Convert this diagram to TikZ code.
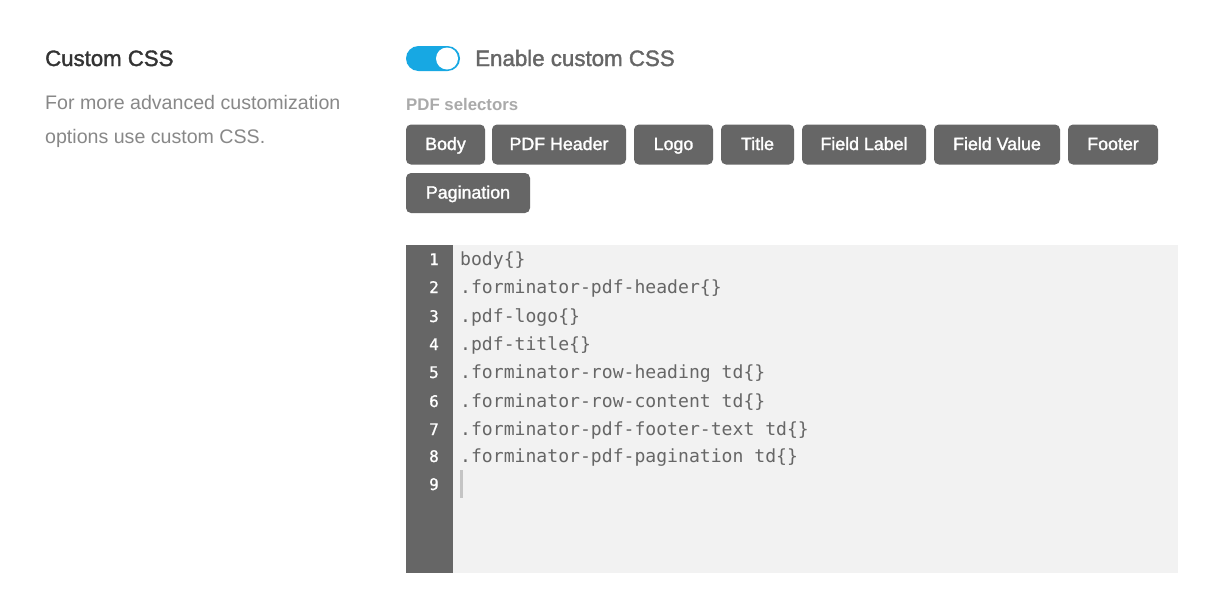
\documentclass[tikz,border=0pt]{standalone}
\usepackage{fontspec}
\setmainfont{Liberation Sans}
\setmonofont{DejaVu Sans Mono}
\newfontfamily\medfont[FakeBold=1.6]{Liberation Sans}
\newfontfamily\numfont[FakeBold=1]{DejaVu Sans Mono}
\usepackage{tikz}
\definecolor{btngray}{HTML}{666666}
\definecolor{codebg}{HTML}{F2F2F2}
\definecolor{toggleblue}{HTML}{17A8E3}
\definecolor{headdark}{HTML}{333333}
\definecolor{helpgray}{HTML}{888888}
\definecolor{labelgray}{HTML}{AAAAAA}
\definecolor{cursorgray}{HTML}{C4C4C4}
\tikzset{
  selbtn/.style={fill=btngray, rounded corners=5pt, text=white, font=\fontsize{17.8}{20}\medfont, inner sep=0pt, anchor=center, text height=15pt, text depth=4pt, minimum height=40pt},
  codeline/.style={anchor=base west, inner sep=0pt, text=btngray, font=\fontsize{18.1}{20}\ttfamily},
  lineno/.style={anchor=base east, inner sep=0pt, text=white, font=\fontsize{16}{20}\numfont},
  helptext/.style={anchor=base west, inner sep=0pt, text=helpgray, font=\fontsize{19.6}{24}\selectfont},
}
\begin{document}
\begin{tikzpicture}[x=1pt, y=-1pt]
    \useasboundingbox (0, 0) rectangle (1220, 611);
    \fill[white] (0, 0) rectangle (1220, 611);
    \node[anchor=base west, inner sep=0pt, text=headdark, font=\fontsize{22.2}{26}\medfont] (title) at (45, 66) {Custom CSS};
    \node[helptext] (help1) at (45, 109) {For more advanced customization};
    \node[helptext] (help2) at (45, 143) {options use custom CSS.};
    \fill[toggleblue, rounded corners=12.5pt] (406, 46) rectangle (460, 71);
    \fill[white] (447, 58.5) circle (11);
    \node[anchor=base west, inner sep=0pt, text=btngray, font=\fontsize{22.3}{28}\medfont] (enable) at (475, 66) {Enable custom CSS};
    \node[anchor=base west, inner sep=0pt, text=labelgray, font=\fontsize{16.8}{20}\selectfont\bfseries] (selectors) at (406, 110) {PDF selectors};
    \node[selbtn, minimum width=79pt] (body) at (445.5, 144.5) {Body};
    \node[selbtn, minimum width=134pt] (header) at (559, 144.5) {PDF Header};
    \node[selbtn, minimum width=79pt] (logo) at (673.5, 144.5) {Logo};
    \node[selbtn, minimum width=73pt] (pdftitle) at (757.5, 144.5) {Title};
    \node[selbtn, minimum width=124pt] (flabel) at (864, 144.5) {Field Label};
    \node[selbtn, minimum width=126pt] (fvalue) at (997, 144.5) {Field Value};
    \node[selbtn, minimum width=90pt] (footer) at (1113, 144.5) {Footer};
    \node[selbtn, minimum width=124pt] (pagination) at (468, 193) {Pagination};
    \fill[codebg] (406, 245) rectangle (1178, 573);
    \fill[btngray] (406, 245) rectangle (453, 573);
    \node[lineno] (n1) at (439, 265) {1};
    \node[lineno] (n2) at (439, 293) {2};
    \node[lineno] (n3) at (439, 322) {3};
    \node[lineno] (n4) at (439, 350) {4};
    \node[lineno] (n5) at (439, 378) {5};
    \node[lineno] (n6) at (439, 407) {6};
    \node[lineno] (n7) at (439, 435) {7};
    \node[lineno] (n8) at (439, 462) {8};
    \node[lineno] (n9) at (439, 490) {9};
    \node[codeline] (c1) at (460, 265) {body\{\}};
    \node[codeline] (c2) at (460, 293) {.forminator-pdf-header\{\}};
    \node[codeline] (c3) at (460, 322) {.pdf-logo\{\}};
    \node[codeline] (c4) at (460, 350) {.pdf-title\{\}};
    \node[codeline] (c5) at (460, 378) {.forminator-row-heading td\{\}};
    \node[codeline] (c6) at (460, 407) {.forminator-row-content td\{\}};
    \node[codeline] (c7) at (460, 435) {.forminator-pdf-footer-text td\{\}};
    \node[codeline] (c8) at (460, 462) {.forminator-pdf-pagination td\{\}};
    \fill[cursorgray] (460, 470) rectangle (463, 498);
  \end{tikzpicture}
\end{document}
